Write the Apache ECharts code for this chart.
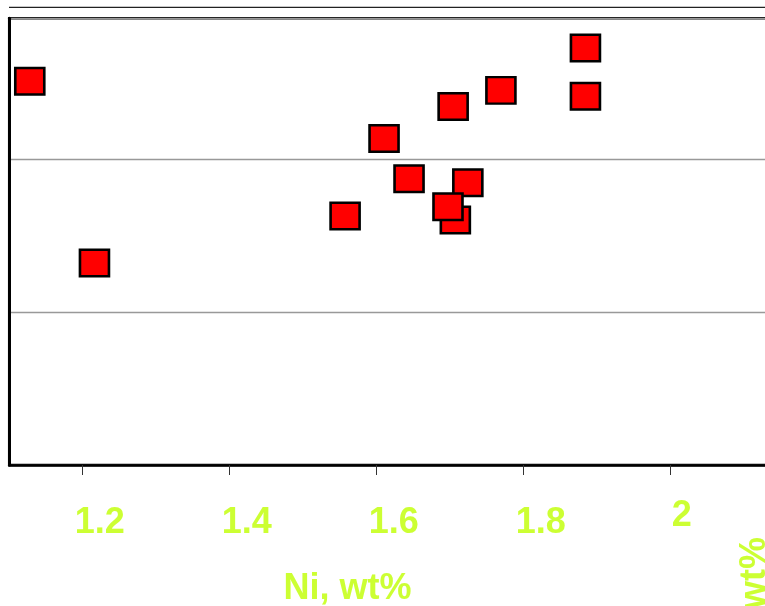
<!DOCTYPE html>
<html>
<head>
<meta charset="utf-8">
<script src="https://cdn.jsdelivr.net/npm/echarts@6/dist/echarts.min.js"></script>
<style>
  html, body { margin: 0; padding: 0; background: #fff; }
  #chart { width: 765px; height: 606px; }
</style>
</head>
<body>
<div id="chart"></div>
<script>
// Ni content vs second element
const niValues = [1.128, 1.216, 1.557, 1.610, 1.644, 1.704, 1.769, 1.884, 1.884, 1.707, 1.724, 1.697]
const yValues = [2.508, 1.320, 1.627, 2.134, 1.871, 2.343, 2.448, 2.725, 2.410, 1.601, 1.845, 1.688]
const xTicks = [1.2, 1.4, 1.6, 1.8, 2]
const xName = 'Ni, wt%'
const yName = 'wt%'

const labelColor = '#ccff33'
const fontFamily = '"Liberation Sans", Arial, sans-serif'

const chart = echarts.init(document.getElementById('chart'))

const points = niValues.map((x, i) => [x, yValues[i]])

const option = {
  animation: false,
  backgroundColor: '#fff',
  grid: {
    left: 9.2,
    right: -8.6,
    top: 18.2,
    bottom: 141,
    containLabel: false,
    outerBoundsMode: 'none',
    show: true,
    borderColor: '#000',
    borderWidth: 2.5
  },
  xAxis: {
    type: 'value',
    min: 1.1,
    max: 2.14,
    axisLine: { show: true, onZero: false, lineStyle: { color: '#000', width: 2.5 } },
    axisTick: {
      show: true,
      customValues: xTicks,
      length: 10,
      lineStyle: { color: '#333', width: 1 }
    },
    splitLine: { show: false },
    axisLabel: {
      customValues: xTicks,
      margin: 33,
      fontFamily: fontFamily,
      fontWeight: 'bold',
      fontSize: 36,
      color: labelColor,
      formatter: function(v) {
        if (v === 2) return '{b|2}'
        return '{a|' + v.toFixed(1) + '}'
      },
      rich: {
        a: {
          fontFamily: fontFamily,
          fontWeight: 'bold',
          fontSize: 36,
          color: labelColor,
          padding: [7, 0, 0, 34]
        },
        b: {
          fontFamily: fontFamily,
          fontWeight: 'bold',
          fontSize: 36,
          color: labelColor,
          padding: [0, 0, 0, 22]
        }
      }
    },
    name: xName,
    nameLocation: 'middle',
    nameGap: 106,
    nameTextStyle: {
      fontFamily: fontFamily,
      fontWeight: 'bold',
      fontSize: 36,
      color: labelColor,
      padding: [0, 88, 0, 0]
    }
  },
  yAxis: {
    type: 'value',
    min: 0,
    max: 2.92,
    interval: 1,
    axisLine: { show: true, lineStyle: { color: '#000', width: 3 } },
    axisTick: { show: false },
    axisLabel: { show: false },
    splitLine: { show: true, lineStyle: { color: '#999', width: 1.3 } }
  },
  graphic: [
    {
      type: 'line',
      shape: { x1: 9, y1: 7.3, x2: 765, y2: 7.3 },
      style: { stroke: '#222', lineWidth: 1.2 },
      silent: true
    },
    {
      type: 'text',
      x: 737,
      y: 537,
      rotation: Math.PI / 2,
      style: {
        text: yName,
        font: 'bold 36px ' + fontFamily,
        fill: labelColor,
        align: 'right',
        verticalAlign: 'top'
      },
      silent: true
    }
  ],
  series: [
    {
      type: 'scatter',
      symbol: 'rect',
      symbolSize: [29, 26.5],
      itemStyle: {
        color: '#ff0000',
        borderColor: '#000',
        borderWidth: 2.5,
        opacity: 1
      },
      data: points
    }
  ]
}

chart.setOption(option)
</script>
</body>
</html>
